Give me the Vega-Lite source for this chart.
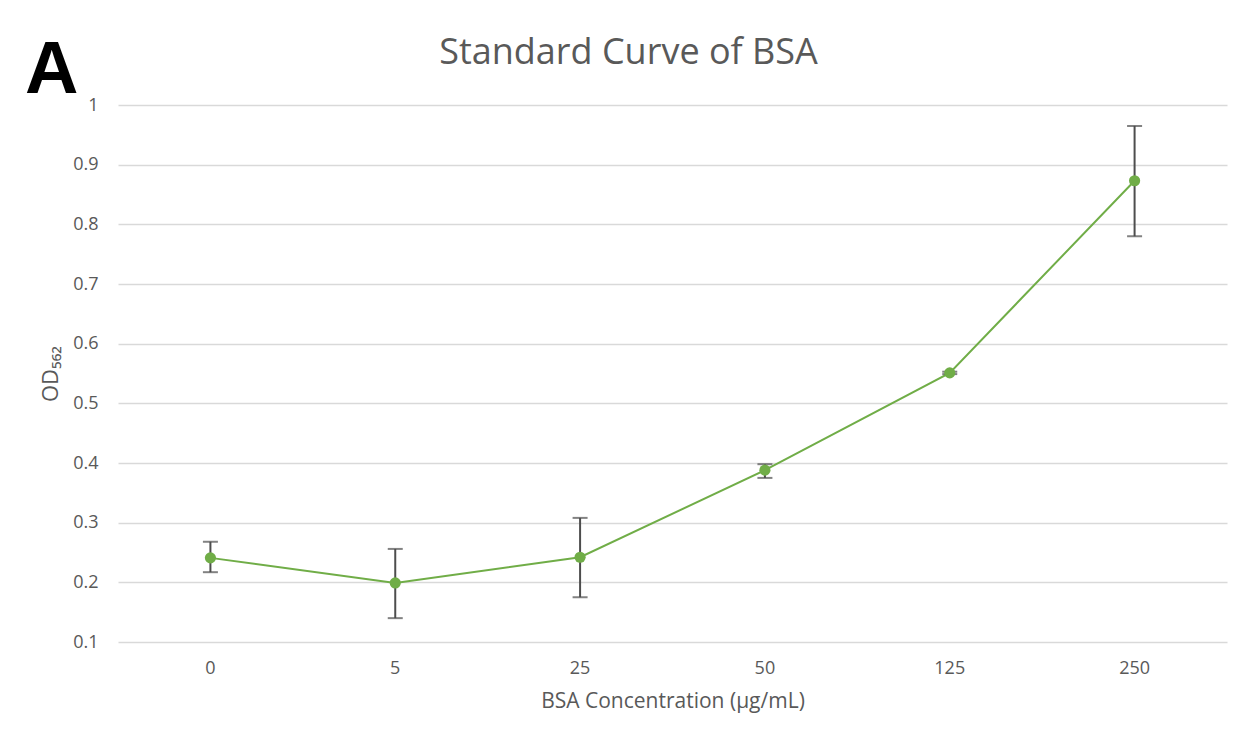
{
  "$schema": "https://vega.github.io/schema/vega-lite/v6.json",
  "width": 1109,
  "height": 537,
  "autosize": {"type": "none"},
  "padding": {"left": 118, "right": 25, "top": 105, "bottom": 102},
  "background": "white",
  "title": {
    "text": "A",
    "anchor": "start",
    "frame": "group",
    "font": "Liberation Sans",
    "fontSize": 74,
    "fontWeight": "bold",
    "color": "#000000",
    "dx": -93,
    "offset": -75
  },
  "config": {
    "view": {"stroke": null},
    "font": "Open Sans",
    "axis": {"labelFont": "Open Sans", "titleFont": "Open Sans", "labelColor": "#595959", "titleColor": "#595959", "titleFontWeight": "normal"}
  },
  "data": {
    "values": [
      {"conc": "0", "od": 0.241, "lo": 0.217, "hi": 0.268},
      {"conc": "5", "od": 0.199, "lo": 0.140, "hi": 0.256},
      {"conc": "25", "od": 0.242, "lo": 0.175, "hi": 0.308},
      {"conc": "50", "od": 0.388, "lo": 0.375, "hi": 0.398},
      {"conc": "125", "od": 0.551, "lo": 0.549, "hi": 0.553},
      {"conc": "250", "od": 0.873, "lo": 0.780, "hi": 0.965}
    ]
  },
  "layer": [
    {
      "mark": {"type": "line", "color": "#70AD47", "strokeWidth": 2},
      "encoding": {
        "x": {"field": "conc", "type": "ordinal", "sort": null,
          "scale": {"type": "band", "paddingInner": 0, "paddingOuter": 0},
          "axis": {"orient": "bottom", "title": "BSA Concentration (µg/mL)", "labelAngle": 0, "labelFontSize": 18, "titleFontSize": 21, "labelPadding": 17, "titlePadding": 13, "ticks": false, "domain": false, "grid": false}},
        "y": {"field": "od", "type": "quantitative",
          "scale": {"domain": [0.1, 1]},
          "axis": {"title": "OD₅₆₂", "values": [0.1, 0.2, 0.3, 0.4, 0.5, 0.6, 0.7, 0.8, 0.9, 1], "format": "~g", "labelFontSize": 18, "titleFontSize": 22, "labelPadding": 20, "titlePadding": 10, "ticks": false, "domain": false, "grid": true, "gridColor": "#D9D9D9", "gridWidth": 1.5}}
      }
    },
    {
      "mark": {"type": "rule", "color": "#4D4D4D", "strokeWidth": 2},
      "encoding": {
        "x": {"field": "conc", "type": "ordinal", "sort": null, "axis": null},
        "y": {"field": "lo", "type": "quantitative"}, "y2": {"field": "hi"}}
    },
    {
      "mark": {"type": "tick", "color": "#4D4D4D", "thickness": 2, "size": 15, "orient": "horizontal"},
      "encoding": {
        "x": {"field": "conc", "type": "ordinal", "sort": null, "axis": null},
        "y": {"field": "lo", "type": "quantitative"}}
    },
    {
      "mark": {"type": "tick", "color": "#4D4D4D", "thickness": 2, "size": 15, "orient": "horizontal"},
      "encoding": {
        "x": {"field": "conc", "type": "ordinal", "sort": null, "axis": null},
        "y": {"field": "hi", "type": "quantitative"}}
    },
    {
      "mark": {"type": "point", "filled": true, "opacity": 1, "size": 125, "color": "#70AD47"},
      "encoding": {
        "y": {"field": "od", "type": "quantitative"},
        "x": {"field": "conc", "type": "ordinal", "sort": null,
          "axis": {"orient": "top", "title": "Standard Curve of BSA", "titleFont": "Open Sans", "titleFontSize": 36, "titleColor": "#595959", "titleX": 510, "titleY": -53, "titleBaseline": "middle", "titleAlign": "center", "labels": false, "ticks": false, "domain": false, "grid": false}}
      }
    }
  ],
  "resolve": {"axis": {"x": "independent"}}
}
